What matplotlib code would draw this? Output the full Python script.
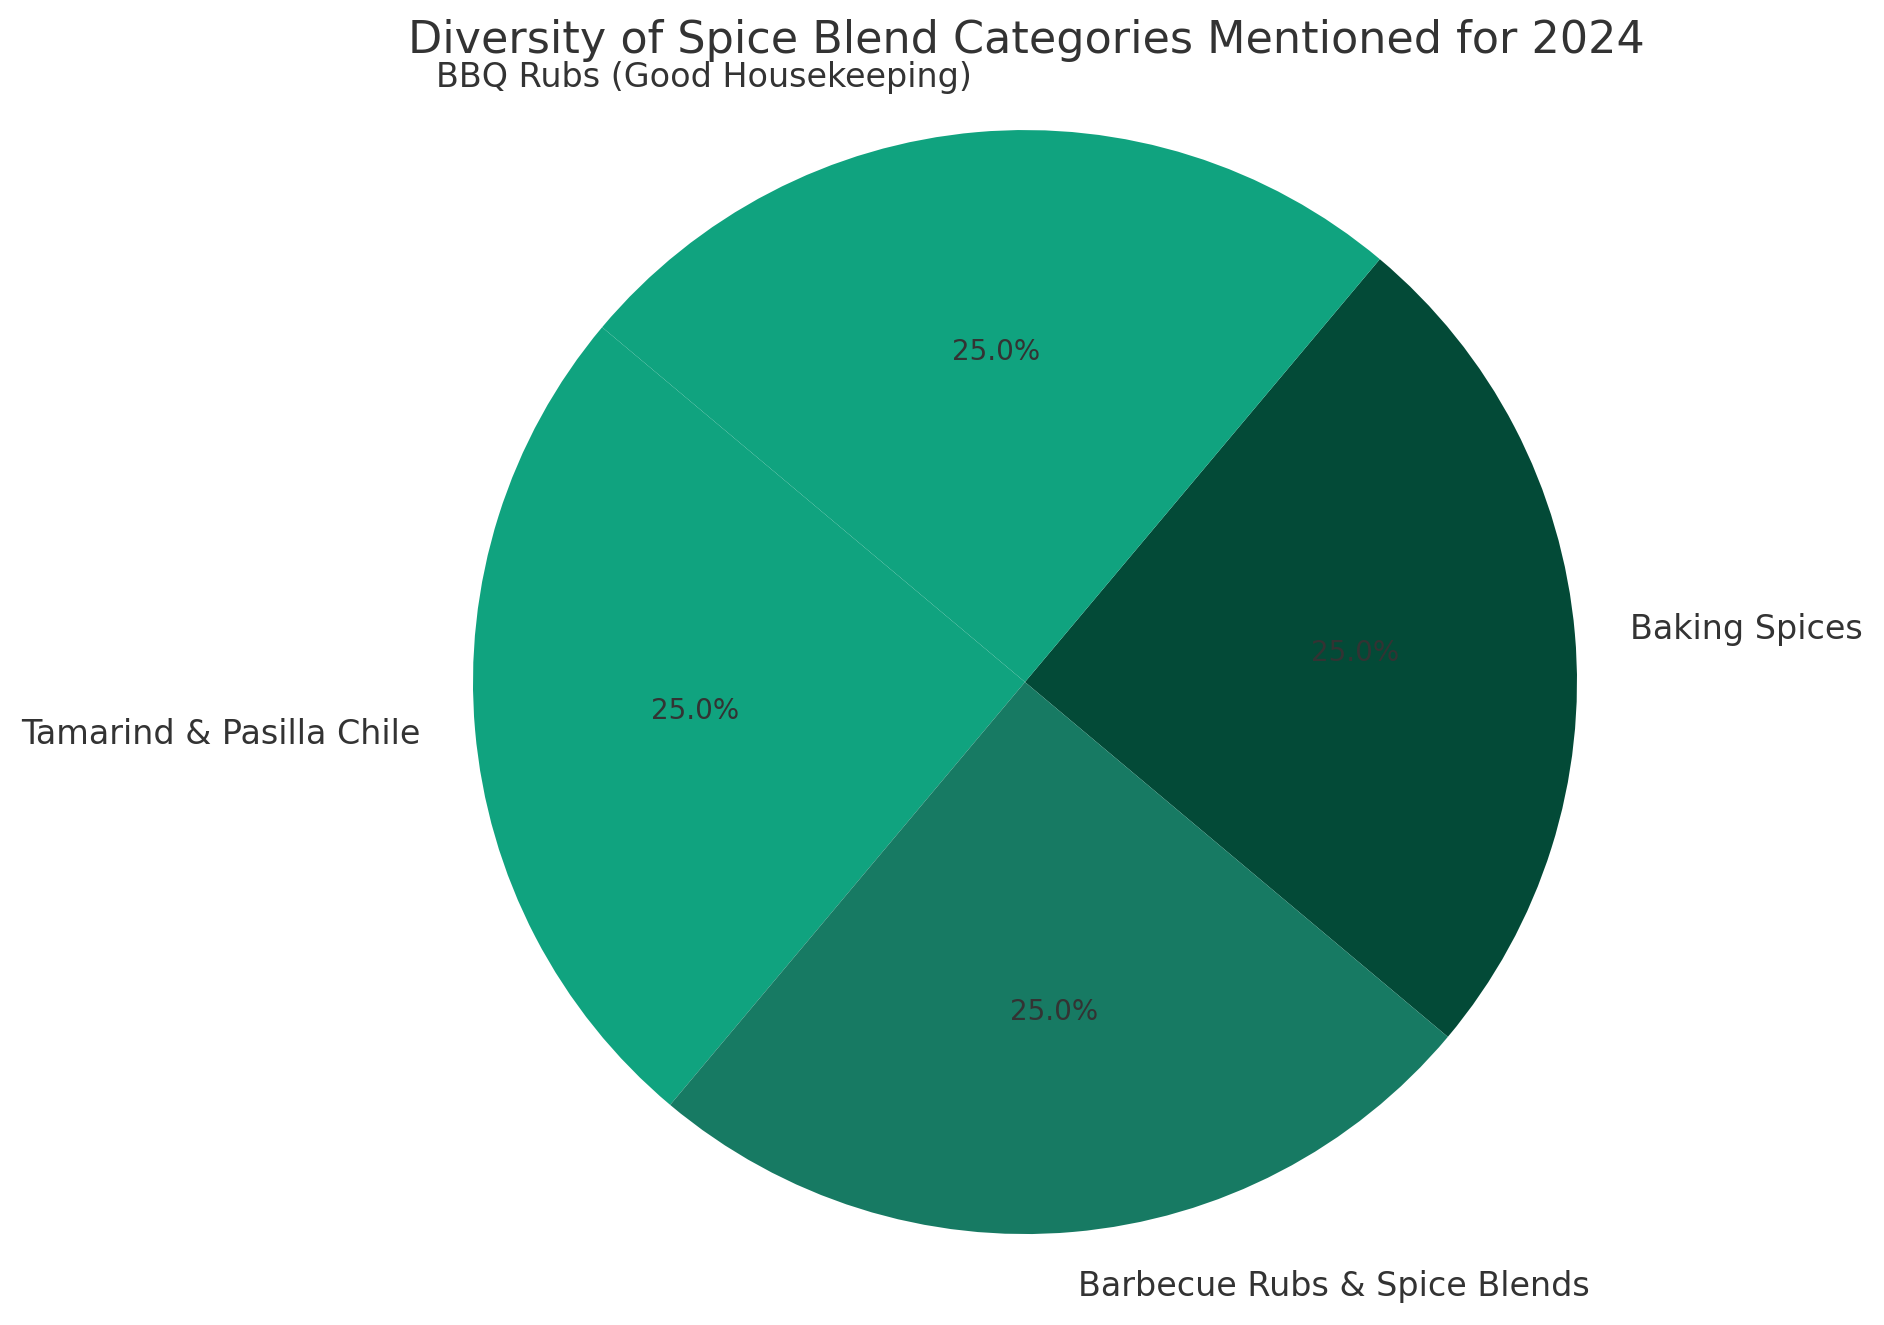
import matplotlib
matplotlib.use("Agg")
import matplotlib.pyplot as plt

# Data
categories = ["Baking Spices", "BBQ Rubs (Good Housekeeping)",
              "Tamarind & Pasilla Chile", "Barbecue Rubs & Spice Blends"]
values = [1, 1, 1, 1]
colors = ["#034a37", "#10a37f", "#10a37f", "#177a63"]

plt.rcParams["text.color"] = "#333333"
plt.rcParams["font.family"] = "DejaVu Sans"

fig = plt.figure(figsize=(9.42, 6.625), dpi=200)
ax = fig.add_axes([0.1778, -0.0355, 0.7325, 1.0415])

wedges, texts, autotexts = ax.pie(values, labels=categories, colors=colors,
                                  autopct="%1.1f%%", startangle=-40,
                                  labeldistance=1.1, pctdistance=0.6,
                                  textprops={"fontsize": 12, "color": "#333333"})
for t in autotexts:
    t.set_fontsize(10)
ax.set_xlim(-1.25, 1.25)
ax.set_ylim(-1.25, 1.25)
ax.set_aspect("equal")

fig.text(1026 / 1884, 1 - 40 / 1325, "Diversity of Spice Blend Categories Mentioned for 2024",
         ha="center", va="center", fontsize=16, color="#333333")

fig.savefig("out.png", dpi=200)
